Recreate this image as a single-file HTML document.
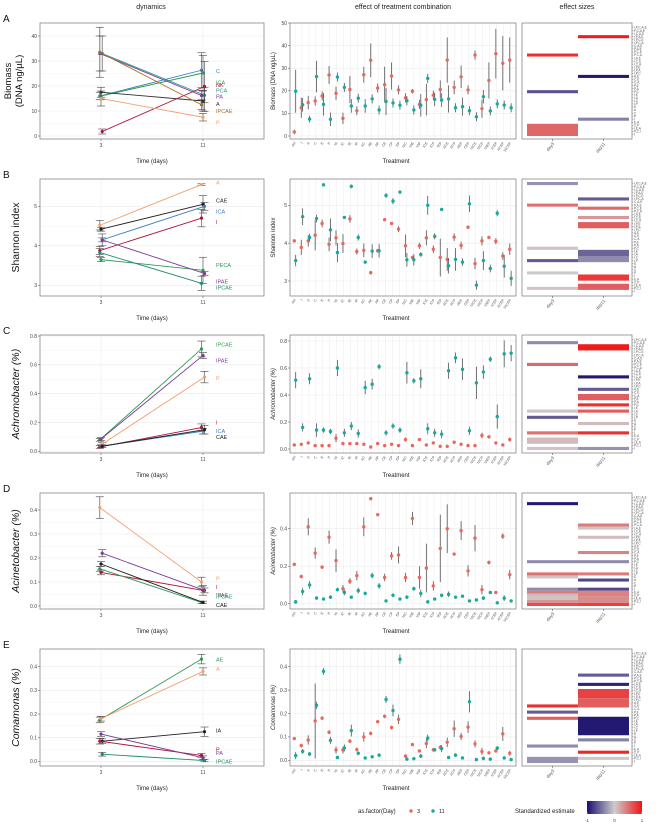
<!DOCTYPE html>
<html><head><meta charset="utf-8"><style>
html,body{margin:0;padding:0;background:#fff;}
svg{display:block;font-family:"Liberation Sans",sans-serif;}
</style></head><body>
<svg id="fig" width="659" height="828" viewBox="0 0 659 828" xmlns="http://www.w3.org/2000/svg"></svg>
<script>
// ---------- DATA ----------
const treatments = ["ctrl","I","A","C","E","P","IA","IC","IE","IP","AC","AE","AP","CE","CP","EP","IAC","IAE","IAP","ICE","ICP","IEP","ACE","ACP","AEP","CEP","IACE","IACP","IAEP","ICEP","ACEP","IACEP"];
const rowLabels = ["I,P,C,A,E","P,C,A,E","I,C,A,E","I,P,A,E","I,P,C,E","I,P,C,A","C,A,E","P,A,E","P,C,E","P,C,A","I,A,E","I,C,E","I,C,A","I,P,E","I,P,A","I,P,C","A,E","C,E","C,A","P,E","P,A","P,C","I,E","I,A","I,C","I,P","E","A","C","P","I","E,A","C,P","I,E,A","P,C,I","I"];

// Panel A
const aNames=["C","ICA","PCA","PA","A","NK","IPCAE","P"];
const aColors=["#3a7fc0","#2f9a55","#1f9a8a","#7a3d9a","#333333","#b0133b","#a8702a","#f0a070"];
const aDay3=[16,16,33,33,17.5,1.8,33.5,15];
const aDay11=[26.3,25.2,16.3,16.2,14,19.8,12.5,7.5];
const aErr3=[1.5,1.5,7,7,2,1,10,3];
const aErr11=[7,7,3,2,4,10,2,1.5];
const aLabY=[26,21.5,18.3,15.8,12.8,20.5,10,5.5];
const aMidDay3=[1.8,12.5,14.8,15.5,17.7,27,18.9,7.8,20.6,11.2,27.1,33.5,21.2,22.7,26.5,20.4,16.9,19.8,14,16.1,18.1,20.6,33.6,21.5,26.2,20.4,35.8,12.1,24.6,36.4,32.2,33.6];
const aMidDay11=[19.8,13.8,7.5,26.3,14,7.4,26.1,21.5,13.3,16.7,13.3,16.4,11.5,15.3,14.6,13.6,15.6,11.5,13.6,25.5,16.2,15.9,16.4,12.5,13,11.2,8.5,17.4,11.1,14.2,13.7,12.5];
const aMidErr3=[1,4.5,3,2,2,4,3,2.5,6,2,3.5,7.5,2,8,6,2,2,1,2,7,2,4,10,3,5,2,2,4,8,11,12,10];
const aMidErr11=[9.5,3,1.5,7,5,3,2,2,3,2,3,2,2,6,2,2,2,2,5,2,3,3,6,2,4,2,2,3,2,2,2,2];

// Panel B
const bNames=["A","CAE","ICA","I","PECA","IPAE","IPCAE"];
const bColors=["#f0a070","#222222","#3a7fc0","#b0133b","#2f9a55","#7a3d9a","#1f8a70"];
const bDay3=[4.52,4.42,4.15,3.88,3.65,4.15,3.83];
const bDay11=[5.55,5.05,5.0,4.7,3.38,3.3,3.05];
const bErr3=[0.12,0.05,0.15,0.1,0.05,0.05,0.1];
const bErr11=[0.02,0.22,0.1,0.22,0.33,0.05,0.18];
const bLabY=[5.6,5.15,4.87,4.6,3.52,3.1,2.95];
const bMidDay3=[4.06,3.89,4.06,4.21,4.52,3.97,4.14,3.99,4.64,3.78,3.81,3.22,3.8,4.62,4.52,4.37,3.93,3.62,3.93,4.14,3.84,3.62,3.57,4.16,3.94,4.42,3.46,4.06,4.15,4.05,3.66,3.84];
const bMidDay11=[3.54,4.7,4.15,4.65,5.54,4.35,3.75,4.68,5.5,4.15,3.5,3.79,3.8,5.26,5.11,5.35,3.56,3.56,3.7,5.0,4.18,4.89,3.4,3.57,3.5,5.04,2.89,3.54,3.33,4.79,3.39,3.07];
const bMidErr3=[0.03,0.2,0.15,0.4,0.1,0.18,0.2,0.25,0.1,0.08,0.18,0.05,0.05,0.03,0.04,0.08,0.3,0.05,0.08,0.2,0.1,0.5,0.3,0.1,0.1,0.03,0.15,0.12,0.04,0.08,0.1,0.15];
const bMidErr11=[0.15,0.22,0.1,0.1,0.03,0.3,0.25,0.03,0.05,0.08,0.04,0.18,0.18,0.06,0.08,0.04,0.18,0.15,0.06,0.25,0.08,0.04,0.2,0.3,0.1,0.22,0.12,0.25,0.1,0.08,0.3,0.2];

// Panel C
const cNames=["IPCAE","IPAE","P","I","ICA","CAE"];
const cColors=["#2f9a55","#7a3d9a","#f0a070","#b0133b","#3a7fc0","#222222"];
const cDay3=[0.08,0.085,0.05,0.03,0.035,0.035];
const cDay11=[0.71,0.665,0.515,0.165,0.14,0.15];
const cErr3=[0.01,0.01,0.01,0.01,0.01,0.01];
const cErr11=[0.055,0.02,0.04,0.025,0.02,0.03];
const cLabY=[0.74,0.63,0.51,0.2,0.14,0.1];
const cMidDay3=[0.03,0.035,0.045,0.025,0.025,0.025,0.08,0.04,0.04,0.04,0.035,0.015,0.04,0.025,0.035,0.025,0.07,0.025,0.07,0.03,0.045,0.02,0.02,0.05,0.035,0.025,0.025,0.1,0.09,0.045,0.03,0.07];
const cMidDay11=[0.51,0.16,0.52,0.14,0.14,0.13,0.6,0.12,0.17,0.115,0.455,0.48,0.61,0.12,0.17,0.14,0.565,0.505,0.52,0.15,0.12,0.11,0.58,0.675,0.59,0.135,0.49,0.57,0.665,0.24,0.705,0.71];
const cMidErr3=[0.01,0.01,0.01,0.01,0.01,0.01,0.03,0.01,0.01,0.01,0.01,0.01,0.01,0.01,0.01,0.01,0.015,0.01,0.01,0.01,0.01,0.01,0.01,0.01,0.01,0.01,0.01,0.02,0.01,0.01,0.01,0.015];
const cMidErr11=[0.06,0.03,0.04,0.05,0.02,0.02,0.06,0.03,0.03,0.03,0.05,0.04,0.02,0.02,0.02,0.02,0.08,0.02,0.07,0.04,0.03,0.03,0.06,0.04,0.08,0.03,0.12,0.05,0.02,0.09,0.1,0.06];

// Panel D
const dNames=["P","I","IPAE","IPCAE","CAE"];
const dColors=["#f0a070","#b0133b","#7a3d9a","#2f9a55","#222222"];
const dDay3=[0.41,0.14,0.22,0.155,0.175];
const dDay11=[0.1,0.065,0.065,0.015,0.015];
const dErr3=[0.045,0.01,0.015,0.01,0.01];
const dErr11=[0.02,0.02,0.01,0.005,0.005];
const dLabY=[0.115,0.08,0.045,0.04,0.005];
const dMidDay3=[0.21,0.145,0.41,0.27,0.195,0.355,0.23,0.08,0.12,0.15,0.41,0.56,0.475,0.14,0.255,0.26,0.14,0.455,0.14,0.19,0.095,0.295,0.4,0.265,0.39,0.175,0.35,0.075,0.22,0.06,0.36,0.155];
const dMidDay11=[0.01,0.065,0.1,0.03,0.025,0.035,0.075,0.06,0.035,0.07,0.055,0.15,0.095,0.015,0.045,0.025,0.035,0.08,0.055,0.01,0.025,0.045,0.05,0.035,0.04,0.015,0.02,0.03,0.06,0.005,0.03,0.015];
const dMidErr3=[0.005,0.01,0.045,0.03,0.01,0.035,0.06,0.02,0.015,0.025,0.05,0.005,0.005,0.02,0.02,0.045,0.025,0.035,0.06,0.13,0.025,0.18,0.13,0.005,0.05,0.03,0.07,0.025,0.01,0.005,0.015,0.025];
const dMidErr11=[0.01,0.02,0.02,0.005,0.005,0.01,0.01,0.015,0.005,0.015,0.01,0.015,0.015,0.005,0.01,0.005,0.01,0.01,0.02,0.005,0.005,0.01,0.015,0.005,0.005,0.005,0.005,0.01,0.005,0.005,0.015,0.005];

// Panel E
const eNames=["AE","A","IA","P","PA","IPCAE"];
const eColors=["#2f9a55","#f0a070","#222222","#b0133b","#7a3d9a","#1f8a70"];
const eDay3=[0.175,0.18,0.085,0.085,0.115,0.03];
const eDay11=[0.432,0.38,0.125,0.025,0.015,0.003];
const eErr3=[0.012,0.01,0.01,0.012,0.01,0.008];
const eErr11=[0.02,0.015,0.02,0.008,0.008,0.005];
const eLabY=[0.43,0.39,0.13,0.05,0.035,0.0];
const eMidDay3=[0.093,0.063,0.087,0.168,0.18,0.12,0.044,0.044,0.082,0.046,0.1,0.115,0.165,0.188,0.14,0.175,0.018,0.067,0.04,0.072,0.045,0.055,0.077,0.135,0.102,0.142,0.07,0.038,0.032,0.04,0.113,0.03];
const eMidDay11=[0.02,0.038,0.027,0.235,0.38,0.085,0.012,0.053,0.127,0.03,0.01,0.015,0.022,0.26,0.213,0.432,0.005,0.007,0.018,0.095,0.045,0.05,0.012,0.022,0.01,0.25,0.003,0.008,0.005,0.052,0.01,0.003];
const eMidErr3=[0.005,0.008,0.02,0.16,0.008,0.008,0.015,0.015,0.008,0.008,0.02,0.008,0.005,0.008,0.008,0.02,0.008,0.005,0.005,0.02,0.008,0.01,0.02,0.035,0.015,0.025,0.015,0.015,0.005,0.005,0.03,0.01];
const eMidErr11=[0.015,0.01,0.008,0.015,0.015,0.015,0.005,0.015,0.025,0.008,0.005,0.005,0.008,0.015,0.025,0.02,0.005,0.005,0.008,0.015,0.008,0.015,0.005,0.008,0.005,0.045,0.005,0.008,0.005,0.008,0.005,0.005];

// Heatmap bars: [column(0=day3,1=day11), row, rowspan, estimate]
const aHeat=[[0,9,1,0.85],[0,21,1,-0.65],[0,32,4,0.55],[1,3,1,0.95],[1,16,1,-0.95],[1,30,1,-0.4]];
const bHeat=[[0,0,1,-0.3],[0,7,1,0.5],[0,21,1,0.05],[0,25,1,-0.6],[0,29,1,0.02],[0,34,1,0.05],[1,5,1,-0.6],[1,8,1,0.55],[1,11,1,0.3],[1,13,2,0.6],[1,22,2,-0.55],[1,24,2,-0.35],[1,30,2,0.8],[1,33,2,0.6]];
const cHeat=[[0,1,1,-0.35],[0,8,1,0.55],[0,23,1,0.05],[0,25,1,-0.6],[0,30,1,0.5],[0,32,2,0.1],[0,35,1,0.05],[1,2,2,0.95],[1,12,1,-0.95],[1,16,1,-0.6],[1,18,2,0.6],[1,21,1,0.85],[1,23,1,0.6],[1,27,1,0.1],[1,30,1,0.85],[1,35,1,-0.3]];
const dHeat=[[0,2,1,-0.95],[0,21,1,-0.35],[0,25,1,0.5],[0,26,1,0.05],[0,30,1,-0.35],[0,31,1,0.45],[0,32,1,0.1],[0,33,1,0.05],[0,34,1,0.3],[0,35,1,0.7],[1,9,1,0.45],[1,10,1,0.05],[1,13,1,0.1],[1,18,1,0.4],[1,21,1,-0.35],[1,25,1,0.45],[1,27,1,-0.7],[1,30,1,-0.7],[1,31,2,0.4],[1,33,2,0.35],[1,35,1,0.75]];
const eHeat=[[0,17,1,0.85],[0,19,1,-0.6],[0,21,1,0.6],[0,30,1,-0.35],[0,34,2,-0.3],[1,7,1,-0.6],[1,10,1,-0.9],[1,12,3,0.75],[1,15,3,0.6],[1,21,6,-0.95],[1,28,1,-0.4],[1,32,1,0.9],[1,34,1,0.02]];

// ---------- LAYOUT ----------
const panels=[
 {id:"a",letter:"A",top:23,bot:139,yl:"Biomass\n(DNA ng/µL)",ital:false,ym:"Biomass (DNA ng/µL)",
  L:{v0:0,p0:136,v1:40,p1:36,ticks:[0,10,20,30,40],fmt:v=>String(v)},
  M:{v0:0,p0:136,v1:50,p1:23,ticks:[0,10,20,30,40,50],fmt:v=>String(v)},
  names:aNames,colors:aColors,d3:aDay3,d11:aDay11,e3:aErr3,e11:aErr11,lab:aLabY,
  m3:aMidDay3,m11:aMidDay11,me3:aMidErr3,me11:aMidErr11,heat:aHeat},
 {id:"b",letter:"B",top:179,bot:296,yl:"Shannon index",ital:false,ym:"Shannon index",
  L:{v0:3,p0:285.3,v1:5,p1:206.3,ticks:[3,4,5],fmt:v=>String(v)},
  M:{v0:3,p0:281,v1:5,p1:205.3,ticks:[3,4,5],fmt:v=>String(v)},
  names:bNames,colors:bColors,d3:bDay3,d11:bDay11,e3:bErr3,e11:bErr11,lab:bLabY,
  m3:bMidDay3,m11:bMidDay11,me3:bMidErr3,me11:bMidErr11,heat:bHeat},
 {id:"c",letter:"C",top:335,bot:453,yl:"Achromobacter (%)",ital:true,ym:"Achromobacter (%)",
  L:{v0:0,p0:451.3,v1:0.8,p1:336,ticks:[0,0.2,0.4,0.6,0.8],fmt:v=>v.toFixed(1)},
  M:{v0:0,p0:449,v1:0.8,p1:341,ticks:[0,0.2,0.4,0.6,0.8],fmt:v=>v.toFixed(1)},
  names:cNames,colors:cColors,d3:cDay3,d11:cDay11,e3:cErr3,e11:cErr11,lab:cLabY,
  m3:cMidDay3,m11:cMidDay11,me3:cMidErr3,me11:cMidErr11,heat:cHeat},
 {id:"d",letter:"D",top:493,bot:609,yl:"Acinetobacter (%)",ital:true,ym:"Acinetobacter (%)",
  L:{v0:0,p0:606,v1:0.4,p1:510,ticks:[0,0.1,0.2,0.3,0.4],fmt:v=>v.toFixed(1)},
  M:{v0:0,p0:603.7,v1:0.4,p1:528.7,ticks:[0,0.2,0.4],fmt:v=>v.toFixed(1)},
  names:dNames,colors:dColors,d3:dDay3,d11:dDay11,e3:dErr3,e11:dErr11,lab:dLabY,
  m3:dMidDay3,m11:dMidDay11,me3:dMidErr3,me11:dMidErr11,heat:dHeat},
 {id:"e",letter:"E",top:649,bot:766,yl:"Comamonas (%)",ital:true,ym:"Comamonas (%)",
  L:{v0:0,p0:761.3,v1:0.4,p1:666.7,ticks:[0,0.1,0.2,0.3,0.4],fmt:v=>v.toFixed(1)},
  M:{v0:0,p0:760.3,v1:0.4,p1:666.7,ticks:[0,0.1,0.2,0.3,0.4],fmt:v=>v.toFixed(1)},
  names:eNames,colors:eColors,d3:eDay3,d11:eDay11,e3:eErr3,e11:eErr11,lab:eLabY,
  m3:eMidDay3,m11:eMidDay11,me3:eMidErr3,me11:eMidErr11,heat:eHeat}
];

const svg=document.getElementById('fig');
const NS="http://www.w3.org/2000/svg";
function mk(tag,attrs,parent){const n=document.createElementNS(NS,tag);for(const k in attrs)n.setAttribute(k,attrs[k]);(parent||svg).appendChild(n);return n;}
function txt(s,attrs,parent){const n=mk('text',attrs,parent);n.textContent=s;return n;}
function lin(s){return v=>s.p0+(v-s.v0)*(s.p1-s.p0)/(s.v1-s.v0);}
const RED="#e8685f", TEAL="#17a99c";
const LX0=40,LX1=264, MX0=290,MX1=516, HX0=522,HX1=632;
const dayX=d=>101+(d-3)*12.75;
const catX=i=>295+i*6.95;
function heatColor(v){
  const neg=[26,15,110], mid=[205,205,205], pos=[240,20,20];
  const t=Math.min(1,Math.abs(v)); const end=v<0?neg:pos;
  const c=mid.map((m,k)=>Math.round(m+(end[k]-m)*t));
  return `rgb(${c[0]},${c[1]},${c[2]})`;
}

// Column titles
let t;
t=txt("dynamics",{x:151,y:9,"font-size":7,"text-anchor":"middle",fill:"#222"});


t=txt("effect of treatment combination",{x:403,y:9,"font-size":7,"text-anchor":"middle",fill:"#222"});


t=txt("effect sizes",{x:577,y:9,"font-size":7,"text-anchor":"middle",fill:"#222"});



panels.forEach(P=>{
  const g=mk('g',{});
  
  
  const lt=txt(P.letter,{x:3,y:P.top-1,"font-size":10,fill:"#111"},g);
  
  

  // ---- left dynamics plot ----
  const ly=lin(P.L);
  const lg=mk('g',{},g);
  
  
  P.L.ticks.forEach((v,k)=>{
    mk('line',{x1:LX0,x2:LX1,y1:ly(v),y2:ly(v),stroke:"#ebebeb","stroke-width":0.6},lg);
    if(k<P.L.ticks.length-1){const vm=(v+P.L.ticks[k+1])/2;mk('line',{x1:LX0,x2:LX1,y1:ly(vm),y2:ly(vm),stroke:"#f3f3f3","stroke-width":0.4},lg);}
    mk('line',{x1:LX0-2,x2:LX0,y1:ly(v),y2:ly(v),stroke:"#444","stroke-width":0.5},lg);
    const tl=txt(P.L.fmt(v),{x:LX0-3,y:ly(v)+1.8,"font-size":5,"text-anchor":"end",fill:"#444"},lg);
    
    
  });
  [3,11].forEach(d=>{
    mk('line',{x1:dayX(d),x2:dayX(d),y1:P.top,y2:P.bot,stroke:"#ebebeb","stroke-width":0.6},lg);
    mk('line',{x1:dayX(d),x2:dayX(d),y1:P.bot,y2:P.bot+2,stroke:"#444","stroke-width":0.5},lg);
    const xl=txt(String(d),{x:dayX(d),y:P.bot+8,"font-size":5,"text-anchor":"middle",fill:"#444"},lg);
    
    
  });
  const fr=mk('rect',{x:LX0,y:P.top,width:LX1-LX0,height:P.bot-P.top,fill:"none",stroke:"#777","stroke-width":0.7},lg);
  
  
  P.names.forEach((nm,k)=>{
    const col=P.colors[k];
    const x3=dayX(3)+(k%3-1)*1.2, x11=dayX(11)+(k%3-1)*1.5;
    const sg=mk('g',{},lg);
    
    
    [[x3,P.d3[k],P.e3[k]],[x11,P.d11[k],P.e11[k]]].forEach(([x,v,e])=>{
      mk('line',{x1:x,x2:x,y1:ly(v-e),y2:ly(v+e),stroke:"#444","stroke-width":0.6},sg);
      mk('line',{x1:x-4,x2:x+4,y1:ly(v-e),y2:ly(v-e),stroke:"#444","stroke-width":0.6},sg);
      mk('line',{x1:x-4,x2:x+4,y1:ly(v+e),y2:ly(v+e),stroke:"#444","stroke-width":0.6},sg);
    });
    mk('line',{x1:x3,x2:x11,y1:ly(P.d3[k]),y2:ly(P.d11[k]),stroke:col,"stroke-width":0.9},sg);
    mk('circle',{cx:x3,cy:ly(P.d3[k]),r:1.6,fill:col},sg);
    mk('circle',{cx:x11,cy:ly(P.d11[k]),r:1.6,fill:col},sg);
    const sl=txt(nm,{x:dayX(11)+13,y:ly(P.lab[k])+2,"font-size":5.5,fill:col},sg);
    
    
  });
  const lines=P.yl.split("\n");
  const yt=txt("",{x:0,y:0,"font-size":lines.length>1?9.5:10.5,"text-anchor":"middle",fill:"#111",transform:`translate(${lines.length>1?14:16},${(P.top+P.bot)/2}) rotate(-90)`,"font-style":P.ital?"italic":"normal"},lg);
  lines.forEach((s,i)=>{const ts=mk('tspan',{x:0,dy:i===0?(lines.length>1?-3:3):11},yt);ts.textContent=s;});
  
  
  const xt=txt("Time (days)",{x:(LX0+LX1)/2,y:P.bot+24,"font-size":6,"text-anchor":"middle",fill:"#222"},lg);
  
  

  // ---- middle treatment plot ----
  const my=lin(P.M);
  const mg=mk('g',{},g);
  
  
  P.M.ticks.forEach(v=>{
    mk('line',{x1:MX0,x2:MX1,y1:my(v),y2:my(v),stroke:"#ebebeb","stroke-width":0.6},mg);
    mk('line',{x1:MX0-2,x2:MX0,y1:my(v),y2:my(v),stroke:"#444","stroke-width":0.5},mg);
    const tl=txt(P.M.fmt(v),{x:MX0-3,y:my(v)+1.8,"font-size":5,"text-anchor":"end",fill:"#444"},mg);
    
    
  });
  treatments.forEach((tr,i)=>{
    const x=catX(i);
    mk('line',{x1:x,x2:x,y1:P.top,y2:P.bot,stroke:"#ebebeb","stroke-width":0.5},mg);
    const xl=txt(tr,{x:0,y:0,"font-size":3.6,"text-anchor":"end",fill:"#555",transform:`translate(${x+1},${P.bot+4}) rotate(-55)`},mg);
    
    
  });
  mk('rect',{x:MX0,y:P.top,width:MX1-MX0,height:P.bot-P.top,fill:"none",stroke:"#777","stroke-width":0.7},mg);
  treatments.forEach((tr,i)=>{
    const x=catX(i);
    [[P.m3[i],P.me3[i],RED,-0.7,'3'],[P.m11[i],P.me11[i],TEAL,0.7,'11']].forEach(([v,e,c,dx,day])=>{
      mk('line',{x1:x+dx,x2:x+dx,y1:my(v-e),y2:my(v+e),stroke:"#555","stroke-width":0.8},mg);
      const pt=mk('circle',{cx:x+dx,cy:my(v),r:1.7,fill:c},mg);
      
      
    });
  });
  const myt=txt(P.ym,{x:0,y:0,"font-size":6,"text-anchor":"middle",fill:"#222","font-style":P.ital?"italic":"normal",transform:`translate(${MX0-15},${(P.top+P.bot)/2}) rotate(-90)`},mg);
  
  
  const mxt=txt("Treatment",{x:(MX0+MX1)/2-7,y:P.bot+24,"font-size":6,"text-anchor":"middle",fill:"#222"},mg);
  
  

  // ---- heatmap ----
  const hg=mk('g',{},g);
  
  
  mk('rect',{x:HX0,y:P.top,width:HX1-HX0,height:P.bot-P.top,fill:"#fff",stroke:"#777","stroke-width":0.7},hg);
  const nR=rowLabels.length, rh=(P.bot-P.top-6)/nR, r0=P.top+3;
  const colX=[527,578], colW=51;
  P.heat.forEach(([c,r,span,v])=>{
    const b=mk('rect',{x:colX[c],y:r0+r*rh,width:colW,height:rh*span,fill:heatColor(v)},hg);
    
    
  });
  rowLabels.forEach((s,r)=>{
    mk('line',{x1:HX1,x2:HX1+1.5,y1:r0+(r+0.5)*rh,y2:r0+(r+0.5)*rh,stroke:"#555","stroke-width":0.3},hg);
    const rl=txt(s,{x:HX1+2,y:r0+(r+0.5)*rh+1.2,"font-size":3.2,fill:"#555"},hg);
    
    
  });
  ["day3","day11"].forEach((s,c)=>{
    const cx=colX[c]+colW/2;
    mk('line',{x1:cx,x2:cx,y1:P.bot,y2:P.bot+2,stroke:"#444","stroke-width":0.5},hg);
    const cl=txt(s,{x:0,y:0,"font-size":4.5,"text-anchor":"end",fill:"#555",transform:`translate(${cx+2},${P.bot+5}) rotate(-50)`},hg);
    
    
  });
});

// ---------- legends ----------
const lg1=mk('g',{});


txt("as.factor(Day)",{x:358,y:813,"font-size":6,fill:"#222"},lg1);
mk('circle',{cx:411,cy:811,r:1.7,fill:RED},lg1);
txt("3",{x:417,y:813,"font-size":5.5,fill:"#222"},lg1);
mk('circle',{cx:433,cy:811,r:1.7,fill:TEAL},lg1);
txt("11",{x:439,y:813,"font-size":5.5,fill:"#222"},lg1);

const lg2=mk('g',{});


txt("Standardized estimate",{x:515,y:813,"font-size":6,fill:"#222"},lg2);
const defs=mk('defs',{});
const gr=mk('linearGradient',{id:"cb",x1:0,x2:1,y1:0,y2:0},defs);
mk('stop',{offset:"0",  "stop-color":heatColor(-1)},gr);
mk('stop',{offset:"0.5","stop-color":heatColor(0)},gr);
mk('stop',{offset:"1",  "stop-color":heatColor(1)},gr);
mk('rect',{x:587,y:801,width:55,height:13,fill:"url(#cb)"},lg2);
[-1,0,1].forEach(v=>{
  const x=587+(v+1)/2*55;
  mk('line',{x1:x,x2:x,y1:812,y2:814,stroke:"#fff","stroke-width":0.6},lg2);
  txt(String(v),{x:x,y:822,"font-size":4.5,"text-anchor":"middle",fill:"#444"},lg2);
});
</script>
</body></html>
